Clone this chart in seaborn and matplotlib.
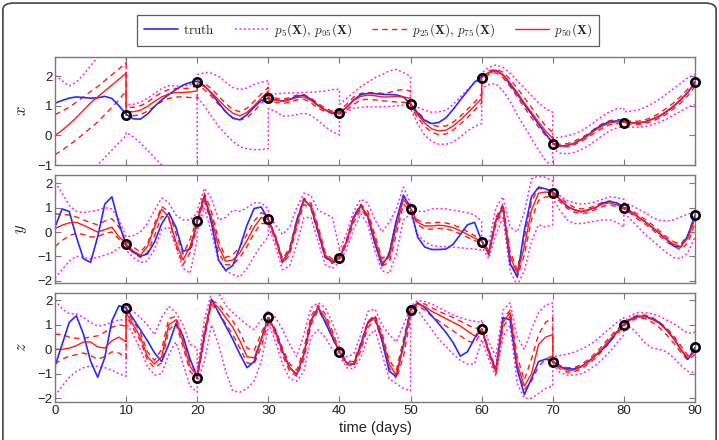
import numpy as np
import pandas as pd
import seaborn as sns
import matplotlib
matplotlib.use("Agg")
import matplotlib.pyplot as plt
from matplotlib.lines import Line2D
from matplotlib.patches import FancyBboxPatch

# ---------------- data ----------------
days = list(range(0, 91))
obs_times = [10, 20, 30, 40, 50, 60, 70, 80, 90]
# ensemble times: each 10-day cycle restarts at an observation
cycle_days = [10 * k + i for k in range(9) for i in range(11)]

obs_x = [0.70, 1.80, 1.25, 0.75, 1.05, 1.95, -0.30, 0.42, 1.80]
obs_y = [-0.50, 0.45, 0.55, -1.05, 0.95, -0.40, 1.60, 1.00, 0.70]
obs_z = [1.70, -1.15, 1.30, -0.10, 1.60, 0.85, -0.50, 1.00, 0.10]

x_truth = [1.09, 1.18, 1.26, 1.30, 1.28, 1.26, 1.27, 1.32, 1.25, 1.00,
           0.72, 0.56, 0.55, 0.72, 0.98, 1.20, 1.38, 1.55, 1.70, 1.79,
           1.83, 1.68, 1.42, 1.10, 0.80, 0.58, 0.53, 0.70, 0.95, 1.18,
           1.26, 1.20, 1.16, 1.22, 1.32, 1.36, 1.22, 1.02, 0.86, 0.76,
           0.76, 0.94, 1.20, 1.38, 1.42, 1.41, 1.39, 1.38, 1.37, 1.30,
           1.06, 0.76, 0.50, 0.40, 0.44, 0.60, 0.88, 1.20, 1.50, 1.80,
           1.98, 2.12, 2.20, 2.05, 1.72, 1.40, 1.05, 0.72, 0.38, 0.05,
           -0.26, -0.36, -0.34, -0.27, -0.14, 0.02, 0.22, 0.36, 0.47, 0.49,
           0.46, 0.43, 0.42, 0.46, 0.55, 0.64, 0.80, 0.98, 1.20, 1.45,
           1.80]
x_p50 = [0.00, 0.17, 0.38, 0.60, 0.85, 1.10, 1.30, 1.50, 1.70, 1.90, 2.10,
         0.80, 0.80, 0.85, 0.98, 1.15, 1.30, 1.40, 1.45, 1.45, 1.47, 1.50,
         1.75, 1.65, 1.45, 1.20, 0.95, 0.75, 0.66, 0.78, 1.00, 1.25, 1.50,
         1.25, 1.20, 1.15, 1.20, 1.28, 1.30, 1.18, 1.00, 0.85, 0.78, 0.76,
         0.78, 0.95, 1.18, 1.32, 1.36, 1.34, 1.30, 1.30, 1.32, 1.30, 1.25,
         1.00, 0.70, 0.42, 0.22, 0.15, 0.18, 0.32, 0.52, 0.75, 1.00, 1.25,
         1.95, 2.12, 2.18, 2.05, 1.78, 1.45, 1.10, 0.78, 0.45, 0.15, -0.10,
         -0.30, -0.36, -0.34, -0.27, -0.14, 0.00, 0.18, 0.32, 0.42, 0.46, 0.45,
         0.44, 0.43, 0.42, 0.46, 0.55, 0.66, 0.82, 1.00, 1.22, 1.47, 1.75]
x_p25 = [-0.65, -0.50, -0.33, -0.15, 0.05, 0.25, 0.45, 0.70, 0.95, 1.20, 1.50,
         0.68, 0.66, 0.70, 0.82, 0.98, 1.15, 1.25, 1.30, 1.30, 1.28, 1.27,
         1.68, 1.55, 1.32, 1.05, 0.80, 0.60, 0.52, 0.60, 0.82, 1.08, 1.32,
         1.20, 1.12, 1.08, 1.12, 1.20, 1.22, 1.10, 0.92, 0.80, 0.74, 0.72,
         0.72, 0.85, 1.05, 1.20, 1.22, 1.20, 1.17, 1.15, 1.13, 1.12, 1.10,
         0.95, 0.60, 0.30, 0.10, 0.02, 0.05, 0.18, 0.38, 0.60, 0.85, 1.10,
         1.88, 2.05, 2.12, 1.95, 1.65, 1.30, 0.95, 0.60, 0.28, 0.00, -0.22,
         -0.33, -0.40, -0.38, -0.32, -0.20, -0.06, 0.10, 0.25, 0.36, 0.40, 0.40,
         0.40, 0.38, 0.37, 0.40, 0.48, 0.58, 0.72, 0.90, 1.10, 1.35, 1.65]
x_p75 = [0.70, 0.82, 0.95, 1.12, 1.30, 1.48, 1.65, 1.85, 2.05, 2.25, 2.45,
         0.95, 0.95, 1.00, 1.12, 1.30, 1.45, 1.55, 1.58, 1.58, 1.60, 1.68,
         1.85, 1.76, 1.58, 1.33, 1.08, 0.88, 0.80, 0.92, 1.15, 1.40, 1.62,
         1.30, 1.26, 1.22, 1.28, 1.36, 1.38, 1.26, 1.08, 0.92, 0.82, 0.80,
         0.85, 1.05, 1.30, 1.42, 1.45, 1.44, 1.42, 1.45, 1.52, 1.55, 1.50,
         1.05, 0.80, 0.55, 0.35, 0.30, 0.32, 0.45, 0.65, 0.88, 1.12, 1.40,
         2.00, 2.18, 2.24, 2.14, 1.90, 1.60, 1.28, 0.95, 0.62, 0.32, 0.10,
         -0.26, -0.30, -0.28, -0.20, -0.08, 0.06, 0.25, 0.40, 0.50, 0.54, 0.52,
         0.48, 0.48, 0.48, 0.53, 0.62, 0.75, 0.92, 1.10, 1.32, 1.57, 1.85]
x_p5 = [-2.20, -2.00, -1.80, -1.60, -1.40, -1.20, -1.00, -0.75, -0.50, -0.25, 0.00,
        0.10, -0.05, -0.25, -0.50, -0.75, -1.00, -1.25, -1.40, -1.50, -1.40, -1.20,
        1.30, 1.00, 0.65, 0.30, 0.05, -0.20, -0.38, -0.45, -0.48, -0.48, -0.45,
        0.90, 0.82, 0.65, 0.66, 0.70, 0.75, 0.68, 0.50, 0.30, 0.12, 0.02,
        0.65, 0.80, 0.92, 0.95, 0.97, 0.97, 0.97, 0.98, 1.00, 1.02, 1.00,
        0.90, 0.40, 0.00, -0.20, -0.30, -0.30, -0.22, -0.05, 0.15, 0.30, 0.40,
        1.60, 1.72, 1.75, 1.50, 1.15, 0.70, 0.30, -0.10, -0.50, -0.85, -1.10,
        -0.45, -0.60, -0.62, -0.58, -0.48, -0.35, -0.18, 0.00, 0.15, 0.25, 0.30,
        0.30, 0.28, 0.28, 0.30, 0.36, 0.45, 0.55, 0.68, 0.82, 0.95, 1.05]
x_p95 = [2.03, 1.85, 1.67, 1.80, 2.05, 2.35, 2.64, 2.90, 3.15, 3.40, 3.60,
         1.03, 1.05, 1.12, 1.25, 1.42, 1.58, 1.68, 1.68, 1.65, 1.72, 1.95,
         2.05, 2.12, 2.10, 2.00, 1.80, 1.62, 1.55, 1.60, 1.72, 1.80, 1.85,
         1.40, 1.40, 1.42, 1.44, 1.44, 1.45, 1.46, 1.48, 1.50, 1.55, 1.56,
         1.05, 1.25, 1.45, 1.65, 1.80, 1.95, 2.05, 2.18, 2.23, 2.12, 2.00,
         1.05, 0.95, 0.85, 0.78, 0.80, 0.85, 1.05, 1.30, 1.55, 1.78, 1.92,
         2.10, 2.30, 2.38, 2.30, 2.10, 1.85, 1.60, 1.35, 1.10, 0.90, 0.78,
         -0.10, -0.06, -0.02, 0.05, 0.15, 0.30, 0.48, 0.65, 0.80, 0.90, 0.92,
         0.80, 0.82, 0.86, 0.95, 1.08, 1.22, 1.40, 1.58, 1.76, 1.95, 2.05]

y_truth = [0.20, 0.95, 0.85, -0.20, -1.10, -1.25, -0.20, 1.15, 1.45, 0.35,
           -0.55, -0.83, -1.00, -0.90, -0.41, 0.34, 0.79, 0.20, -0.80, -0.70,
           0.42, 1.50, 0.40, -1.15, -1.58, -1.38, -0.62, 0.28, 0.97, 1.03,
           0.50, -0.20, -1.24, -0.76, 0.48, 1.34, 1.03, 0.00, -1.03, -1.24,
           -1.06, -0.41, 0.62, 1.10, 0.62, -0.48, -1.38, -0.90, 0.48, 1.52,
           0.97, -0.21, -0.62, -0.72, -0.72, -0.70, -0.50, -0.10, 0.30, 0.40,
           -0.37, -0.90, 0.48, 1.05, -1.30, -1.85, 0.07, 1.45, 1.85, 1.78,
           1.66, 1.35, 1.05, 0.92, 0.83, 0.92, 1.00, 1.20, 1.26, 1.20,
           1.00, 0.82, 0.62, 0.42, 0.18, -0.05, -0.30, -0.58, -0.62, -0.15,
           0.69]
y_p50 = [0.14, 0.28, 0.38, 0.40, 0.28, 0.14, 0.00, 0.10, 0.20, -0.20, -0.45,
         -0.50, -0.78, -0.95, -0.60, 0.20, 0.95, 0.60, -0.40, -1.15, -0.60, 0.35,
         0.45, 1.45, 0.60, -0.60, -1.20, -1.15, -0.85, -0.35, 0.20, 0.60, 0.50,
         0.50, -0.25, -1.20, -0.80, 0.35, 1.30, 1.10, 0.10, -0.95, -1.20, -1.05,
         -1.05, -0.40, 0.55, 1.05, 0.70, -0.30, -1.25, -1.05, 0.20, 1.35, 0.95,
         0.95, 0.40, 0.25, 0.25, 0.28, 0.25, 0.18, 0.05, -0.10, -0.25, -0.38,
         -0.40, -0.85, 0.45, 1.00, -1.00, -1.70, -0.60, 0.90, 1.60, 1.65, 1.60,
         1.62, 1.35, 1.08, 0.92, 0.85, 0.90, 1.02, 1.15, 1.20, 1.12, 1.00,
         1.00, 0.85, 0.62, 0.42, 0.20, -0.05, -0.30, -0.50, -0.60, -0.25, 0.55]
y_p25 = [-0.60, -0.35, -0.15, -0.05, -0.10, -0.20, -0.20, -0.05, 0.00, -0.30, -0.55,
         -0.60, -0.85, -1.05, -0.85, -0.15, 0.65, 0.55, -0.55, -1.35, -0.85, 0.20,
         0.30, 1.30, 0.35, -0.85, -1.35, -1.35, -1.05, -0.60, -0.05, 0.35, 0.35,
         0.45, -0.35, -1.30, -0.95, 0.20, 1.15, 0.95, -0.05, -1.05, -1.30, -1.10,
         -1.10, -0.50, 0.40, 0.95, 0.55, -0.45, -1.40, -1.25, -0.10, 1.15, 0.85,
         0.90, 0.30, 0.12, 0.12, 0.15, 0.13, 0.05, -0.08, -0.22, -0.35, -0.45,
         -0.45, -0.95, 0.30, 0.90, -1.20, -1.85, -0.95, 0.50, 1.30, 1.45, 1.45,
         1.55, 1.25, 0.98, 0.82, 0.76, 0.80, 0.92, 1.05, 1.12, 1.05, 0.95,
         0.95, 0.75, 0.52, 0.32, 0.10, -0.15, -0.40, -0.60, -0.72, -0.45, 0.35]
y_p75 = [0.75, 0.72, 0.70, 0.62, 0.50, 0.38, 0.30, 0.45, 0.55, 0.20, -0.35,
         -0.40, -0.62, -0.82, -0.50, 0.35, 1.05, 0.85, -0.05, -0.90, -0.30, 0.55,
         0.60, 1.60, 0.85, -0.35, -1.05, -0.95, -0.60, -0.10, 0.45, 0.80, 0.65,
         0.55, -0.15, -1.10, -0.65, 0.50, 1.40, 1.20, 0.25, -0.85, -1.12, -1.00,
         -1.00, -0.30, 0.65, 1.15, 0.85, -0.15, -1.10, -0.85, 0.45, 1.50, 1.05,
         1.00, 0.50, 0.37, 0.38, 0.40, 0.37, 0.30, 0.17, 0.02, -0.15, -0.30,
         -0.35, -0.75, 0.60, 1.15, -0.80, -1.55, -0.25, 1.25, 1.80, 1.75, 1.70,
         1.68, 1.45, 1.18, 1.02, 0.95, 0.98, 1.10, 1.22, 1.28, 1.20, 1.05,
         1.05, 0.92, 0.72, 0.52, 0.30, 0.05, -0.20, -0.40, -0.50, -0.10, 0.70]
y_p5 = [-1.90, -1.55, -1.20, -1.00, -1.05, -1.10, -1.05, -0.95, -0.85, -0.65, -0.60,
        -0.75, -1.05, -1.25, -1.20, -0.70, 0.10, 0.20, -0.60, -1.50, -1.70, -0.30,
        0.00, 1.00, 0.00, -1.20, -1.60, -1.75, -1.85, -1.50, -1.00, -0.55, -0.20,
        0.30, -0.60, -1.55, -1.40, -0.50, 0.60, 0.60, -0.40, -1.35, -1.50, -1.25,
        -1.25, -0.70, 0.10, 0.75, 0.30, -0.80, -1.60, -1.70, -0.90, 0.50, 0.75,
        0.75, -0.10, -0.40, -0.55, -0.60, -0.60, -0.62, -0.65, -0.68, -0.70, -0.75,
        -0.60, -1.10, -0.10, 0.60, -1.60, -2.20, -1.60, -0.40, 0.30, 0.20, 0.30,
        1.40, 0.90, 0.50, 0.35, 0.35, 0.40, 0.45, 0.50, 0.50, 0.40, 0.20,
        0.80, 0.50, 0.20, -0.10, -0.35, -0.60, -0.85, -1.05, -1.10, -0.85, -0.20]
y_p95 = [2.05, 1.60, 1.10, 0.85, 0.80, 0.85, 0.90, 1.00, 0.95, 0.50, -0.20,
         -0.20, -0.15, 0.00, 0.35, 0.90, 1.40, 1.20, 0.70, 0.50, 0.50, 0.80,
         0.90, 1.80, 1.40, 0.50, 0.60, 0.90, 0.85, 1.00, 1.20, 1.20, 0.95,
         0.70, 0.30, -0.10, 0.20, 1.00, 1.60, 1.50, 0.90, 0.75, 0.60, -0.70,
         -0.80, -0.05, 0.85, 1.35, 1.20, 0.50, 0.00, 0.40, 0.95, 1.85, 1.20,
         1.10, 0.85, 0.85, 0.95, 0.97, 0.95, 0.90, 0.85, 0.80, 0.70, 0.45,
         -0.20, -0.45, 1.00, 1.45, 0.20, 0.00, 0.80, 2.20, 2.30, 2.25, 2.10,
         1.85, 1.50, 1.30, 1.20, 1.15, 1.18, 1.25, 1.35, 1.45, 1.42, 1.35,
         1.20, 1.10, 0.95, 0.80, 0.60, 0.48, 0.45, 0.50, 0.62, 0.75, 0.80]

z_truth = [-0.68, 0.20, 1.10, 1.37, 0.62, -0.48, -1.14, -0.34, 1.16, 1.78,
           1.68, 1.25, 0.80, 0.35, -0.15, -0.50, 0.20, 1.05, 0.55, -0.40,
           -1.14, 0.50, 2.05, 1.50, 0.96, 0.41, -0.20, -0.75, -0.50, 0.40,
           1.30, 0.75, -0.07, -0.75, -1.03, -0.20, 1.16, 1.71, 1.10, 0.50,
           -0.10, -0.55, -0.62, 0.20, 1.10, 1.30, 0.34, -0.90, -1.10, 0.20,
           1.64, 1.90, 1.70, 1.37, 1.03, 0.68, 0.27, -0.28, -0.10, 0.45,
           0.82, -0.10, -0.85, 1.30, 1.20, -0.80, -1.85, -1.20, -0.50, -0.40,
           -0.48, -0.70, -0.80, -0.80, -0.70, -0.50, -0.25, 0.00, 0.30, 0.70,
           1.03, 1.25, 1.35, 1.35, 1.25, 1.10, 0.80, 0.45, 0.00, -0.41,
           0.07]
z_p50 = [0.00, 0.00, 0.05, 0.15, 0.30, 0.30, 0.10, 0.05, 0.35, 0.50, 0.30,
         1.50, 1.00, 0.50, -0.30, -0.60, -0.30, 1.00, 1.20, 0.30, -0.70, -1.10,
         -1.10, 0.60, 1.95, 1.70, 1.30, 0.90, 0.35, -0.30, -0.35, 0.40, 1.20,
         1.30, 0.70, -0.10, -0.75, -1.00, -0.20, 1.20, 1.70, 1.30, 0.60, -0.10,
         -0.10, -0.55, -0.60, 0.10, 1.05, 1.30, 0.50, -0.60, -1.05, 0.10, 1.50,
         1.60, 1.85, 1.75, 1.55, 1.40, 1.25, 1.10, 0.95, 0.75, 0.55, 0.80,
         0.85, -0.10, -0.90, 1.10, 1.50, -0.60, -1.50, -1.00, 0.20, 0.50, 0.60,
         -0.50, -0.72, -0.85, -0.85, -0.72, -0.52, -0.25, 0.05, 0.40, 0.72, 1.00,
         1.00, 1.22, 1.32, 1.32, 1.22, 1.05, 0.78, 0.42, 0.00, -0.35, -0.10]
z_p25 = [-0.60, -0.40, -0.28, -0.22, -0.15, -0.25, -0.40, -0.30, -0.10, -0.15, -0.35,
         1.40, 0.85, 0.35, -0.45, -0.75, -0.55, 0.80, 1.05, 0.10, -0.90, -1.20,
         -1.15, 0.40, 1.85, 1.50, 1.05, 0.60, 0.05, -0.55, -0.60, 0.10, 1.10,
         1.25, 0.60, -0.25, -0.90, -1.10, -0.40, 1.00, 1.60, 1.15, 0.45, -0.15,
         -0.15, -0.62, -0.70, -0.05, 0.90, 1.20, 0.35, -0.75, -1.20, -0.30, 1.30,
         1.55, 1.78, 1.60, 1.35, 1.15, 0.95, 0.75, 0.55, 0.35, 0.25, 0.70,
         0.80, -0.20, -1.00, 0.90, 1.35, -0.85, -1.65, -1.30, -0.70, -0.40, -0.25,
         -0.55, -0.80, -0.93, -0.92, -0.80, -0.60, -0.35, -0.05, 0.30, 0.62, 0.95,
         0.95, 1.18, 1.28, 1.25, 1.10, 0.88, 0.60, 0.25, -0.12, -0.45, -0.20]
z_p75 = [0.62, 0.60, 0.50, 0.45, 0.45, 0.50, 0.55, 0.70, 0.90, 1.00, 0.95,
         1.60, 1.15, 0.70, -0.10, -0.45, 0.00, 1.25, 1.35, 0.50, -0.50, -1.00,
         -1.05, 0.80, 2.00, 1.85, 1.50, 1.15, 0.70, 0.05, -0.05, 0.65, 1.30,
         1.35, 0.80, 0.05, -0.60, -0.85, 0.00, 1.35, 1.80, 1.45, 0.75, -0.05,
         -0.05, -0.48, -0.50, 0.25, 1.15, 1.40, 0.65, -0.45, -0.85, 0.40, 1.60,
         1.65, 1.90, 1.85, 1.70, 1.55, 1.42, 1.30, 1.15, 1.00, 0.85, 0.90,
         0.90, 0.00, -0.80, 1.25, 1.60, -0.30, -1.25, -0.40, 0.60, 1.10, 1.30,
         -0.45, -0.65, -0.75, -0.75, -0.62, -0.42, -0.15, 0.15, 0.50, 0.80, 1.05,
         1.05, 1.30, 1.40, 1.40, 1.30, 1.10, 0.88, 0.55, 0.15, -0.25, 0.05]
z_p5 = [-1.90, -1.50, -1.15, -0.90, -0.75, -0.68, -0.70, -0.75, -0.85, -1.00, -1.10,
        1.10, 0.60, 0.00, -0.70, -1.05, -1.00, -0.20, 0.30, -0.60, -1.50, -1.75,
        -1.30, -0.50, 1.00, 0.20, -0.90, -1.70, -1.75, -1.60, -1.30, -0.50, 0.90,
        1.10, 0.30, -0.60, -1.20, -1.30, -0.90, 0.50, 0.80, 0.50, 0.00, -0.20,
        -0.25, -0.75, -0.80, -0.35, 0.50, 0.80, -0.20, -1.20, -1.40, -1.60, -1.70,
        1.50, 1.60, 1.20, 0.80, 0.40, 0.10, -0.20, -0.45, -0.60, -0.60, 0.40,
        0.40, -0.40, -1.10, 0.50, 1.00, -1.40, -2.00, -2.00, -1.80, -1.60, -1.50,
        -0.60, -0.95, -1.05, -1.05, -1.00, -0.85, -0.65, -0.40, -0.10, 0.25, 0.60,
        0.85, 0.90, 0.60, 0.25, 0.05, 0.00, -0.10, -0.35, -0.65, -0.90, -0.95]
z_p95 = [2.00, 1.65, 1.45, 1.45, 1.30, 1.10, 0.95, 1.00, 1.10, 1.20, 1.20,
         1.80, 1.55, 1.30, 1.00, 0.60, 1.30, 1.75, 1.50, 1.00, 0.20, 0.05,
         -0.90, 1.20, 2.30, 2.30, 1.80, 1.50, 1.25, 1.00, 0.80, 1.20, 1.60,
         1.50, 1.30, 0.80, 0.20, -0.30, 0.60, 1.70, 1.90, 1.70, 1.10, 0.30,
         0.00, -0.30, -0.20, 0.60, 1.55, 1.65, 1.00, 0.60, 0.30, 1.00, 1.70,
         1.75, 2.00, 1.95, 1.85, 1.70, 1.55, 1.40, 1.30, 1.20, 1.15, 1.10,
         1.20, 0.30, -0.30, 1.60, 1.90, 0.50, 0.00, 0.80, 1.50, 1.80, 1.90,
         -0.30, -0.25, -0.20, -0.12, 0.00, 0.15, 0.35, 0.60, 0.85, 1.10, 1.30,
         1.10, 1.40, 1.50, 1.50, 1.45, 1.35, 1.20, 1.05, 0.85, 0.65, 0.70]

panels = [
    ("x", x_truth, x_p5, x_p95, x_p25, x_p75, x_p50, obs_x, (-1.0, 2.65), [-1, 0, 1, 2]),
    ("y", y_truth, y_p5, y_p95, y_p25, y_p75, y_p50, obs_y, (-2.1, 2.35), [-2, -1, 0, 1, 2]),
    ("z", z_truth, z_p5, z_p95, z_p25, z_p75, z_p50, obs_z, (-2.15, 2.3), [-2, -1, 0, 1, 2]),
]

# ---------------- style ----------------
sns.set_theme(style="white")
plt.rcParams["font.family"] = ["Liberation Sans", "DejaVu Sans"]
plt.rcParams["mathtext.fontset"] = "cm"

BLUE = "#2a2aff"
RED = "#ff1a1a"
MAG = "#ff22ff"
SPINE = "#7a7a7a"

fig = plt.figure(figsize=(7.19, 4.40), dpi=100)
left, width = 55 / 719, 640 / 719
boxes = [(1 - 165 / 440, 108 / 440), (1 - 283 / 440, 108 / 440), (1 - 402 / 440, 109 / 440)]

for i, (name, truth, p5, p95, p25, p75, p50, obs, ylim, yt) in enumerate(panels):
    b, h = boxes[i]
    ax = fig.add_axes([left, b, width, h])
    sns.lineplot(x=cycle_days, y=p5, ax=ax, color=MAG, lw=1.1, linestyle=(0, (1.3, 1.6)),
                 estimator=None, sort=False)
    sns.lineplot(x=cycle_days, y=p95, ax=ax, color=MAG, lw=1.1, linestyle=(0, (1.3, 1.6)),
                 estimator=None, sort=False)
    sns.lineplot(x=cycle_days, y=p25, ax=ax, color=RED, lw=1.0, linestyle=(0, (4, 3)),
                 estimator=None, sort=False)
    sns.lineplot(x=cycle_days, y=p75, ax=ax, color=RED, lw=1.0, linestyle=(0, (4, 3)),
                 estimator=None, sort=False)
    sns.lineplot(x=days, y=truth, ax=ax, color=BLUE, lw=1.2, estimator=None, sort=False)
    sns.lineplot(x=cycle_days, y=p50, ax=ax, color=RED, lw=1.0, estimator=None, sort=False)
    ax.plot(obs_times, obs, linestyle="none", marker="o", ms=6.0, mfc="none",
            mec="black", mew=1.9, zorder=5, clip_on=False)

    ax.set_xlim(0, 90)
    ax.set_ylim(*ylim)
    ax.set_yticks(yt)
    ax.set_xticks(range(0, 91, 10))
    ax.tick_params(direction="in", length=4, width=0.8, colors=SPINE, labelcolor="#222222",
                   labelsize=9.5, top=True, right=True, left=True, bottom=True, pad=2)
    for s in ax.spines.values():
        s.set_color(SPINE)
        s.set_linewidth(1.0)
    ax.set_ylabel(f"${name}$", fontsize=12, color="#222222", labelpad=6)
    if i < 2:
        ax.set_xticklabels([])
        ax.set_xlabel("")
    else:
        ax.set_xlabel("time (days)", fontsize=10.5, color="#222222", labelpad=3)

handles = [
    Line2D([], [], color=BLUE, lw=1.2),
    Line2D([], [], color=MAG, lw=1.1, linestyle=(0, (1.3, 1.6))),
    Line2D([], [], color=RED, lw=1.0, linestyle=(0, (4, 3))),
    Line2D([], [], color=RED, lw=1.0),
]
labels = [r"$\mathrm{truth}$",
          r"$p_5(\mathbf{X}),\,p_{95}(\mathbf{X})$",
          r"$p_{25}(\mathbf{X}),\,p_{75}(\mathbf{X})$",
          r"$p_{50}(\mathbf{X})$"]
leg = fig.legend(handles, labels, loc="center", bbox_to_anchor=(368 / 719, 1 - 30.5 / 440),
                 ncol=4, fontsize=9.5, frameon=True, fancybox=False, handlelength=2.6,
                 handletextpad=0.4, columnspacing=1.5, borderpad=0.5)
leg.get_frame().set_edgecolor("#333333")
leg.get_frame().set_linewidth(0.9)

border = FancyBboxPatch((0.004, -0.05), 0.992, 1.043, boxstyle="round,pad=0,rounding_size=0.015",
                        transform=fig.transFigure, fill=False, ec="#444444", lw=1.2, clip_on=False)
fig.patches.append(border)

fig.savefig("out.png", dpi=100)
